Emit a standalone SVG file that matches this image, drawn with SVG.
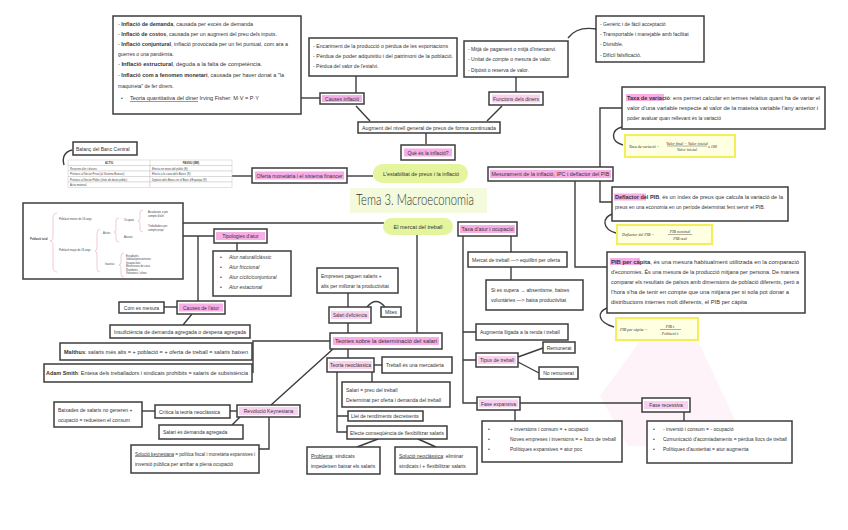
<svg xmlns="http://www.w3.org/2000/svg" width="848" height="530" viewBox="0 0 848 530">
<defs>
<style>
.t{font-family:"Liberation Sans",Arial,sans-serif;font-size:5px;fill:#333}
.tm{text-anchor:middle}
.bd{font-weight:bold}
.u{text-decoration:underline}
.box{fill:#fff;stroke:#3c3c3c;stroke-width:1.5}
.hl{fill:#f7aee6}
.hl2{fill:#fad2ef}
.c{fill:none;stroke:#3c3c3c;stroke-width:1.4}
.br{fill:none;stroke:#e7a6bd;stroke-width:0.6}
.pill{fill:#e4f59e}
.fb{fill:#ffffe2;stroke:#f3ee5a;stroke-width:2}
.ft{font-family:"Liberation Serif","Times New Roman",serif;font-style:italic;font-size:4px;fill:#333}
.tt{font-family:"Liberation Sans",Arial,sans-serif;font-size:2.7px;fill:#444}
.tb{fill:#fff;stroke:#bbb;stroke-width:0.4}
</style>
</defs>
<rect width="848" height="530" fill="#fff"/>
<polygon points="600,396 640,341 698,341 736,422 700,446 628,446" fill="#fdf3f9"/>

<g id="connectors">
<path class="c" d="M301 98H320"/>
<path class="c" d="M356 76V93"/>
<path class="c" d="M356 106L370 121"/>
<path class="c" d="M502 106L487 121"/>
<path class="c" d="M516 77V92"/>
<path class="c" d="M568 38Q577 26 596 29"/>
<path class="c" d="M426 133V144"/>
<path class="c" d="M600 167V108H622"/>
<path class="c" d="M622 127C611 130 610 141 623 145"/>
<path class="c" d="M575 181V267H607"/>
<path class="c" d="M600 181V202H612"/>
<path class="c" d="M612 214C602 218 602 229 616 233"/>
<path class="c" d="M607 308C597 312 597 322 614 327"/>
<path class="c" d="M72 150C64 152 62 158 64 165"/>
<path class="c" d="M232 176H252"/>
<path class="c" d="M347 176H373"/>
<path class="c" d="M183 223H384"/>
<path class="c" d="M137 236H214"/>
<path class="c" d="M198 236V301"/>
<path class="c" d="M164 307H177"/>
<path class="c" d="M192 314L183 325"/>
<path class="c" d="M237 243V251"/>
<path class="c" d="M417 235V333"/>
<path class="c" d="M330 341H253V373"/>
<path class="c" d="M348 293V307"/>
<path class="c" d="M348 323V333"/>
<path class="c" d="M367 307Q376 296 385 307"/>
<path class="c" d="M348 349V358"/>
<path class="c" d="M374 365H382"/>
<path class="c" d="M372 372V382"/>
<path class="c" d="M337 372V432H347M337 416H348"/>
<path class="c" d="M378 439L357 447"/>
<path class="c" d="M418 439L436 447"/>
<path class="c" d="M333 349L271 405"/>
<path class="c" d="M230 411H237"/>
<path class="c" d="M142 411H155"/>
<path class="c" d="M240 417L232 425"/>
<path class="c" d="M269 417V449H259"/>
<path class="c" d="M463 236V403H477M463 332H476M463 360H476"/>
<path class="c" d="M511 236V252M511 267V280"/>
<path class="c" d="M518 357L543 348M518 362L539 373"/>
<path class="c" d="M520 403H642"/>
<path class="c" d="M515 410V421"/>
<path class="c" d="M684 412V421"/>
</g>

<g id="n_title">
<rect x="350" y="188" width="137" height="25" fill="#f4fadc"/>
<text x="356" y="205" font-family="Lato,'Liberation Sans',sans-serif" font-weight="300" font-size="15" fill="#333" textLength="118" lengthAdjust="spacingAndGlyphs">Tema 3. Macroeconomia</text>
</g>

<g id="n_pill_inflacio">
<rect class="pill" x="373" y="164" width="95" height="19" rx="9.5"/>
<text class="t tm" x="421" y="175.5" textLength="76" lengthAdjust="spacingAndGlyphs">L'estabilitat de preus i la inflació</text>
</g>
<g id="n_pill_treball">
<rect class="pill" x="383" y="218" width="70" height="17" rx="8.5"/>
<text class="t tm" x="418" y="228.5" textLength="49" lengthAdjust="spacingAndGlyphs">El mercat del treball</text>
</g>

<g id="n_inflation_types">
<rect class="box" x="113" y="16" width="188" height="98"/>
<text class="t" x="118" y="26" textLength="135" lengthAdjust="spacingAndGlyphs">- <tspan class="bd">Inflació de demanda</tspan>, causada per excés de demanda</text>
<text class="t" x="118" y="36" textLength="159" lengthAdjust="spacingAndGlyphs">- <tspan class="bd">Inflació de costos</tspan>, causada per un augment del preu dels inputs.</text>
<text class="t" x="118" y="46" textLength="170" lengthAdjust="spacingAndGlyphs">- <tspan class="bd">Inflació conjuntural</tspan>, inflació provocada per un fet puntual, com ara a</text>
<text class="t" x="118" y="56">guerres o una pandèmia.</text>
<text class="t" x="118" y="66" textLength="144" lengthAdjust="spacingAndGlyphs">- <tspan class="bd">Inflació estructural</tspan>, deguda a la falta de competència.</text>
<text class="t" x="118" y="77" textLength="166" lengthAdjust="spacingAndGlyphs">- <tspan class="bd">Inflació com a fenomen monetari</tspan>, causada per haver donat a "la</text>
<text class="t" x="118" y="88">maquineta" de fer diners.</text>
<text class="t" x="121" y="100">•</text>
<text class="t" x="130" y="100" textLength="129" lengthAdjust="spacingAndGlyphs"><tspan class="u">Teoria quantitativa del diner</tspan> Irving Fisher: M·V = P·Y</text>
</g>

<g id="n_causes_list">
<rect class="box" x="309" y="38" width="148" height="38"/>
<text class="t" x="313" y="48" textLength="135" lengthAdjust="spacingAndGlyphs">- Encariment de la producció o pèrdua de les exportacions</text>
<text class="t" x="313" y="58" textLength="140" lengthAdjust="spacingAndGlyphs">- Pèrdua de poder adquisitiu i del patrimoni de la població.</text>
<text class="t" x="313" y="68">- Pèrdua del valor de l'estalvi.</text>
</g>

<g id="n_causes">
<rect class="box" x="320" y="93" width="44" height="11"/>
<rect class="hl" x="322" y="95" width="40" height="7"/>
<text class="t tm" x="342" y="100.5">Causes inflació</text>
</g>

<g id="n_augment">
<rect class="box" x="358" y="122" width="142" height="11"/>
<text class="t" x="362" y="129.5" textLength="134" lengthAdjust="spacingAndGlyphs">Augment del nivell general de preus de forma continuada</text>
</g>

<g id="n_que_es">
<rect class="box" x="401" y="145" width="54" height="15"/>
<rect class="hl" x="404" y="148.5" width="48" height="8"/>
<text class="t tm" x="428" y="154.5">Què és la inflació?</text>
</g>

<g id="n_funcions">
<rect class="box" x="489" y="92" width="54" height="13"/>
<rect class="hl2" x="492" y="94.5" width="48" height="8"/>
<text class="t tm" x="516" y="100.5">Funcions dels diners</text>
</g>

<g id="n_funcions_list">
<rect class="box" x="464" y="41" width="104" height="36"/>
<text class="t" x="468" y="51">- Mitjà de pagament o mitjà d'intercanvi.</text>
<text class="t" x="468" y="61">- Unitat de compte o mesura de valor.</text>
<text class="t" x="468" y="72">- Dipòsit o reserva de valor.</text>
</g>

<g id="n_caract">
<rect class="box" x="596" y="16" width="108" height="46"/>
<text class="t" x="600" y="26">- Genèric i de fàcil acceptació</text>
<text class="t" x="600" y="36">- Transportable i manejable amb facilitat</text>
<text class="t" x="600" y="46">- Divisible.</text>
<text class="t" x="600" y="57">- Difícil falsificació.</text>
</g>

<g id="n_taxa">
<rect class="box" x="622" y="87" width="203" height="42"/>
<rect class="hl" x="626" y="94" width="38" height="7"/>
<text class="t" x="627" y="99.5" textLength="193" lengthAdjust="spacingAndGlyphs"><tspan class="bd">Taxa de variació</tspan>: ens permet calcular en termes relatius quant ha de variar el</text>
<text class="t" x="627" y="109.5" textLength="191" lengthAdjust="spacingAndGlyphs">valor d'una variable respecte al valor de la mateixa variable l'any anterior i</text>
<text class="t" x="627" y="119.5">poder avaluar quan rellevant és la variació</text>
</g>

<g id="n_taxa_f">
<rect class="fb" x="625" y="135" width="110" height="22"/>
<text class="ft" x="629" y="147.5">Taxa de variació =</text>
<text class="ft tm" x="687" y="144.5" font-size="3.3">Valor final − Valor inicial</text>
<path d="M667 146H707" stroke="#333" stroke-width="0.4"/>
<text class="ft tm" x="687" y="151" font-size="3.3">Valor inicial</text>
<text class="ft" x="708" y="147.5">x 100</text>
</g>

<g id="n_mesura">
<rect class="box" x="488" y="167" width="125" height="14"/>
<rect class="hl" x="490" y="170" width="121" height="8"/>
<text class="t tm" x="550.5" y="176" textLength="118" lengthAdjust="spacingAndGlyphs">Mesurament de la inflació, IPC i deflactor del PIB</text>
</g>

<g id="n_deflactor">
<rect class="box" x="612" y="187" width="176" height="34"/>
<rect class="hl" x="614" y="193.5" width="32" height="7"/>
<text class="t" x="615" y="199" textLength="168" lengthAdjust="spacingAndGlyphs"><tspan class="bd">Deflactor del PIB</tspan>, és un índex de preus que calcula la variació de la</text>
<text class="t" x="615" y="209" textLength="150" lengthAdjust="spacingAndGlyphs">preus en una economia en un període determinat fent servir el PIB.</text>
</g>

<g id="n_deflactor_f">
<rect class="fb" x="617" y="225" width="95" height="19"/>
<text class="ft" x="622" y="236">Deflactor del PIB =</text>
<text class="ft tm" x="680" y="233" font-size="3.5">PIB nominal</text>
<path d="M668 234.5H692" stroke="#333" stroke-width="0.4"/>
<text class="ft tm" x="680" y="239.5" font-size="3.5">PIB real</text>
</g>

<g id="n_pibcap">
<rect class="box" x="607" y="252" width="198" height="61"/>
<rect class="hl" x="610" y="258" width="30" height="7"/>
<text class="t" x="611" y="263.5" textLength="188" lengthAdjust="spacingAndGlyphs"><tspan class="bd">PIB per càpita</tspan>, és una mesura habitualment utilitzada en la comparació</text>
<text class="t" x="611" y="273.5" textLength="188" lengthAdjust="spacingAndGlyphs">d'economies. És una mesura de la producció mitjana per persona. De manera</text>
<text class="t" x="611" y="283.5" textLength="188" lengthAdjust="spacingAndGlyphs">comparar els resultats de països amb dimensions de població diferents, però a</text>
<text class="t" x="611" y="293.5" textLength="178" lengthAdjust="spacingAndGlyphs">l'hora s'ha de tenir en compte que una mitjana per si sola pot donar a</text>
<text class="t" x="611" y="303.5" textLength="136" lengthAdjust="spacingAndGlyphs">distribucions internes molt diferents, el PIB per càpita</text>
</g>

<g id="n_pibcap_f">
<rect class="fb" x="616" y="318" width="82" height="22"/>
<text class="ft" x="620" y="331">PIB per càpita =</text>
<text class="ft tm" x="670" y="328" font-size="3.5">PIB t</text>
<path d="M660 329.5H681" stroke="#333" stroke-width="0.4"/>
<text class="ft tm" x="670" y="334.5" font-size="3.5">Població t</text>
</g>

<g id="n_balanc">
<rect class="box" x="73" y="142" width="64" height="13"/>
<text class="t" x="76" y="150.5">Balanç del Banc Central</text>
</g>

<g id="n_table">
<rect class="tb" x="68" y="160" width="164" height="5.5" fill="#f4f4f4"/>
<rect class="tb" x="68" y="165.5" width="82" height="5.5"/><rect class="tb" x="150" y="165.5" width="82" height="5.5"/>
<rect class="tb" x="68" y="171" width="82" height="5.5"/><rect class="tb" x="150" y="171" width="82" height="5.5"/>
<rect class="tb" x="68" y="176.5" width="82" height="5.5"/><rect class="tb" x="150" y="176.5" width="82" height="5.5"/>
<rect class="tb" x="68" y="182" width="82" height="5.5"/><rect class="tb" x="150" y="182" width="82" height="5.5"/>
<path d="M150 160V165.5" stroke="#bbb" stroke-width="0.4"/>
<text class="tt tm bd" x="109" y="164">ACTIU</text>
<text class="tt tm bd" x="191" y="164">PASSIU (BM)</text>
<text class="tt" x="70" y="169.5">Reserves d'or i divises</text>
<text class="tt" x="152" y="169.5">Efectiu en mans del públic (E)</text>
<text class="tt" x="70" y="175">Préstecs al Sector Privat (al Sistema Bancari)</text>
<text class="tt" x="152" y="175">Efectiu a la caixa dels Bancs (R)</text>
<text class="tt" x="70" y="180.5">Préstecs al Sector Públic (títols de deute públic)</text>
<text class="tt" x="152" y="180.5">Dipòsits dels Bancs en el Banc d'Espanya (R)</text>
<text class="tt" x="70" y="186">Actiu material</text>
</g>

<g id="n_oferta">
<rect class="box" x="252" y="168" width="95" height="15"/>
<rect class="hl" x="255" y="171.5" width="89" height="8"/>
<text class="t tm" x="299.5" y="177.5" textLength="86" lengthAdjust="spacingAndGlyphs">Oferta monetària i el sistema financer</text>
</g>

<g id="n_tree">
<rect class="box" x="23" y="203" width="160" height="76"/>
<text class="tt bd" x="30" y="240">Població total</text>
<path class="br" d="M57 213Q53 213 53 218V236Q53 241 50 241Q53 241 53 246V267Q53 272 57 272"/>
<text class="tt" x="59" y="220">Població menor de 16 anys</text>
<text class="tt" x="59" y="251">Població major de 16 anys</text>
<path class="br" d="M100 229Q97 229 97 233V247Q97 251 95 251Q97 251 97 255V268Q97 272 100 272"/>
<text class="tt" x="103" y="234">Actius</text>
<text class="tt" x="105" y="265">Inactius</text>
<path class="br" d="M119 218Q116 218 116 221V229Q116 232 114 232Q116 232 116 235V239Q116 242 119 242"/>
<text class="tt" x="124" y="221">Ocupats</text>
<text class="tt" x="124" y="237.5">Aturats</text>
<path class="br" d="M143 210Q140 210 140 213V218Q140 221 138 221Q140 221 140 224V229Q140 232 143 232"/>
<text class="tt" x="148" y="213">Assalariats o per</text>
<text class="tt" x="148" y="216.5">compte d'altri</text>
<text class="tt" x="148" y="227">Treballadors per</text>
<text class="tt" x="148" y="230.5">compte propi</text>
<path class="br" d="M124 253Q121 253 121 256V262Q121 265 119 265Q121 265 121 268V274Q121 277 124 277"/>
<text class="tt" x="126" y="256.5">Estudiants</text>
<text class="tt" x="126" y="260">Jubilats/pensionistes</text>
<text class="tt" x="126" y="263.5">Incapacitats</text>
<text class="tt" x="126" y="267">Mestresses de casa</text>
<text class="tt" x="126" y="270.5">Rendistes</text>
<text class="tt" x="126" y="274">Voluntaris / altres</text>
</g>

<g id="n_tipologies">
<rect class="box" x="214" y="229" width="53" height="14"/>
<rect class="hl" x="216" y="232" width="49" height="8"/>
<text class="t tm" x="240.5" y="238">Tipologies d'atur</text>
</g>

<g id="n_tipologies_list">
<rect class="box" x="213" y="251" width="78" height="45"/>
<text class="t" x="220" y="259">•</text><text class="t" x="229" y="259" font-style="italic">Atur natural/clàssic</text>
<text class="t" x="220" y="269">•</text><text class="t" x="229" y="269" font-style="italic">Atur friccional</text>
<text class="t" x="220" y="279">•</text><text class="t" x="229" y="279" font-style="italic">Atur cíclic/conjuntural</text>
<text class="t" x="220" y="289">•</text><text class="t" x="229" y="289" font-style="italic">Atur estacional</text>
</g>

<g id="n_causes_atur">
<rect class="box" x="177" y="301" width="48" height="13"/>
<rect class="hl" x="179" y="303.5" width="44" height="8"/>
<text class="t tm" x="201" y="309.5">Causes de l'atur</text>
</g>

<g id="n_com">
<rect class="box" x="119" y="302" width="45" height="11"/>
<text class="t tm" x="141.5" y="309.5">Com es mesura</text>
</g>

<g id="n_insuf">
<rect class="box" x="110" y="325" width="140" height="13"/>
<text class="t" x="114" y="333.5" textLength="132" lengthAdjust="spacingAndGlyphs">Insuficiència de demanda agregada o despesa agregada</text>
</g>

<g id="n_malthus">
<rect class="box" x="60" y="343" width="192" height="17"/>
<text class="t" x="64" y="353.5" textLength="184" lengthAdjust="spacingAndGlyphs"><tspan class="bd">Malthus</tspan>: salaris més alts = + població = + oferta de treball = salaris baixen</text>
</g>

<g id="n_smith">
<rect class="box" x="44" y="364" width="208" height="18"/>
<text class="t" x="46" y="375" textLength="202" lengthAdjust="spacingAndGlyphs"><tspan class="bd">Adam Smith</tspan>: Entesa dels treballadors i sindicats prohibits = salaris de subsistència</text>
</g>

<g id="n_empreses">
<rect class="box" x="317" y="268" width="81" height="25"/>
<text class="t" x="321" y="278">Empreses paguen salaris +</text>
<text class="t" x="321" y="288">alts per millorar la productivitat</text>
</g>

<g id="n_salari_ef">
<rect class="box" x="329" y="307" width="42" height="16"/>
<rect class="hl2" x="331" y="311" width="38" height="8"/>
<text class="t tm" x="350" y="317" textLength="34" lengthAdjust="spacingAndGlyphs">Salari d'eficiència</text>
</g>

<g id="n_mites">
<rect class="box" x="381" y="307" width="20" height="10"/>
<text class="t tm" x="391" y="314">Mites</text>
</g>

<g id="n_teories">
<rect class="box" x="330" y="333" width="112" height="16"/>
<rect class="hl" x="333" y="337" width="106" height="8"/>
<text class="t tm" x="386" y="343" textLength="102" lengthAdjust="spacingAndGlyphs">Teories sobre la determinació del salari</text>
</g>

<g id="n_neoclassica">
<rect class="box" x="327" y="358" width="47" height="14"/>
<rect class="hl2" x="329" y="361" width="43" height="8"/>
<text class="t tm" x="350.5" y="367">Teoria neoclàssica</text>
</g>

<g id="n_mercaderia">
<rect class="box" x="382" y="357" width="70" height="16"/>
<text class="t" x="386" y="367">Treball és una mercaderia</text>
</g>

<g id="n_salari_preu">
<rect class="box" x="342" y="382" width="108" height="25"/>
<text class="t" x="346" y="392">Salari = preu del treball</text>
<text class="t" x="346" y="402">Determinat per oferta i demanda del treball</text>
</g>

<g id="n_llei">
<rect class="box" x="348" y="411" width="75" height="10"/>
<text class="t" x="351" y="418">Llei de rendiments decreixents</text>
</g>

<g id="n_efecte">
<rect class="box" x="347" y="426" width="100" height="13"/>
<text class="t" x="350" y="434.5" textLength="94" lengthAdjust="spacingAndGlyphs">Efecte conseqüència de flexibilitzar salaris</text>
</g>

<g id="n_problema">
<rect class="box" x="307" y="447" width="73" height="27"/>
<text class="t" x="311" y="457.5"><tspan class="u">Problema</tspan>: sindicats</text>
<text class="t" x="311" y="467.5">impedeixen baixar els salaris</text>
</g>

<g id="n_solucio_neo">
<rect class="box" x="395" y="447" width="82" height="27"/>
<text class="t" x="399" y="457.5"><tspan class="u">Solució neoclàssica</tspan>: eliminar</text>
<text class="t" x="399" y="467.5">sindicats i + flexibilitzar salaris</text>
</g>

<g id="n_keynes">
<rect class="box" x="237" y="405" width="63" height="12"/>
<rect class="hl2" x="239" y="407" width="59" height="8"/>
<text class="t tm" x="268.5" y="413">Revolució Keynesiana</text>
</g>

<g id="n_critica">
<rect class="box" x="155" y="405" width="75" height="13"/>
<text class="t" x="159" y="413.5">Crítica la teoria neoclàssica</text>
</g>

<g id="n_baixades">
<rect class="box" x="54" y="402" width="88" height="25"/>
<text class="t" x="58" y="411.5">Baixades de salaris no generen +</text>
<text class="t" x="58" y="421.5">ocupació = redueixen el consum</text>
</g>

<g id="n_salari_dem">
<rect class="box" x="159" y="425" width="84" height="14"/>
<text class="t" x="163" y="434">Salari és demanda agregada</text>
</g>

<g id="n_solucio_key">
<rect class="box" x="131" y="445" width="128" height="28"/>
<text class="t" x="135" y="455.5" textLength="120" lengthAdjust="spacingAndGlyphs"><tspan class="u">Solució keynesiana</tspan> = política fiscal i monetària expansives i</text>
<text class="t" x="135" y="465.5">inversió pública per arribar a plena ocupació</text>
</g>

<g id="n_taxa_atur">
<rect class="box" x="458" y="222" width="59" height="14"/>
<rect class="hl" x="460" y="225" width="55" height="8"/>
<text class="t tm" x="487.5" y="231" textLength="52" lengthAdjust="spacingAndGlyphs">Taxa d'atur i ocupació</text>
</g>

<g id="n_mercat_eq">
<rect class="box" x="468" y="252" width="99" height="15"/>
<text class="t" x="472" y="261.5">Mercat de treball —&gt; equilibri per oferta</text>
</g>

<g id="n_supera">
<rect class="box" x="486" y="280" width="97" height="30"/>
<text class="t" x="491" y="291.5">Si es supera → absentisme, baixes</text>
<text class="t" x="491" y="302">voluntàries —&gt; baixa productivitat</text>
</g>

<g id="n_augmenta">
<rect class="box" x="476" y="324" width="92" height="16"/>
<text class="t" x="480" y="334">Augmenta lligada a la renda i treball</text>
</g>

<g id="n_tipus">
<rect class="box" x="476" y="353" width="42" height="14"/>
<rect class="hl2" x="478" y="356" width="38" height="8"/>
<text class="t tm" x="497" y="362">Tipus de treball</text>
</g>

<g id="n_remunerat">
<rect class="box" x="543" y="342" width="32" height="11"/>
<text class="t tm" x="559" y="349.5">Remunerat</text>
</g>

<g id="n_noremunerat">
<rect class="box" x="539" y="367" width="39" height="12"/>
<text class="t tm" x="558.5" y="375">No remunerat</text>
</g>

<g id="n_expansiva">
<rect class="box" x="477" y="397" width="43" height="13"/>
<rect class="hl2" x="479" y="399.5" width="39" height="8"/>
<text class="t tm" x="498.5" y="405.5">Fase expansiva</text>
</g>

<g id="n_expansiva_list">
<rect class="box" x="482" y="421" width="140" height="41"/>
<text class="t" x="488" y="431">•</text><text class="t" x="510" y="431">+ inversions i consum = + ocupació</text>
<text class="t" x="488" y="441">•</text><text class="t" x="510" y="441">Noves empreses i inversions = + llocs de treball</text>
<text class="t" x="488" y="451">•</text><text class="t" x="510" y="451">Polítiques expansives = atur poc</text>
</g>

<g id="n_recessiva">
<rect class="box" x="642" y="398" width="48" height="14"/>
<rect class="hl2" x="644" y="401" width="44" height="8"/>
<text class="t tm" x="666" y="407">Fase recessiva</text>
</g>

<g id="n_recessiva_list">
<rect class="box" x="647" y="421" width="145" height="42"/>
<text class="t" x="653" y="431">•</text><text class="t" x="663" y="431">- inversió i consum = - ocupació</text>
<text class="t" x="653" y="441">•</text><text class="t" x="663" y="441">Comunicació d'acomiadaments = pèrdua llocs de treball</text>
<text class="t" x="653" y="451">•</text><text class="t" x="663" y="451">Polítiques d'austeritat = atur augmenta</text>
</g>
</svg>
